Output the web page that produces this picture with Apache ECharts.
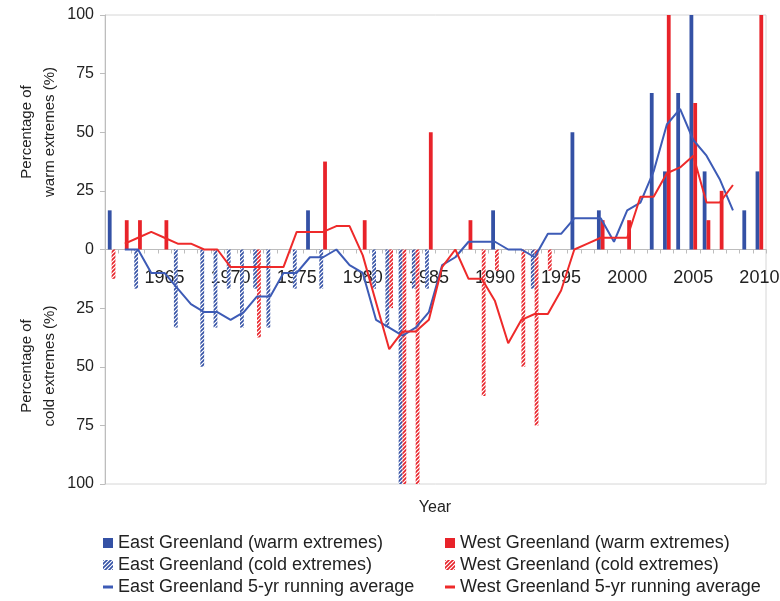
<!DOCTYPE html>
<html>
<head>
<meta charset="utf-8">
<title>Greenland temperature extremes</title>
<script src="https://cdn.jsdelivr.net/npm/echarts@6/dist/echarts.min.js"></script>
<style>
  html, body { margin: 0; padding: 0; background: #ffffff; }
  #chart { width: 780px; height: 601px; }
</style>
</head>
<body>
<div id="chart"></div>
<script>
// Years on the category axis
const years = [
  '1961','1962','1963','1964','1965','1966','1967','1968','1969','1970',
  '1971','1972','1973','1974','1975','1976','1977','1978','1979','1980',
  '1981','1982','1983','1984','1985','1986','1987','1988','1989','1990',
  '1991','1992','1993','1994','1995','1996','1997','1998','1999','2000',
  '2001','2002','2003','2004','2005','2006','2007','2008','2009','2010'
];

// Percentage of stations with warm extremes (positive) per year
const eastWarm = [
  16.7, null, null, null, null, null, null, null, null, null,
  null, null, null, null, null, 16.7, null, null, null, null,
  null, null, null, null, null, null, null, null, null, 16.7,
  null, null, null, null, null, 50, null, 16.7, null, null,
  null, 66.7, 33.3, 66.7, 100, 33.3, null, null, 16.7, 33.3
];
const westWarm = [
  null, 12.5, 12.5, null, 12.5, null, null, null, null, null,
  null, null, null, null, null, null, 37.5, null, null, 12.5,
  null, null, null, null, 50, null, null, 12.5, null, null,
  null, null, null, null, null, null, null, 12.5, null, 12.5,
  null, null, 100, null, 62.5, 12.5, 25, null, null, 100
];

// Percentage of stations with cold extremes, plotted downwards
const eastCold = [
  null, null, -16.7, null, null, -33.3, null, -50, -33.3, -16.7,
  -33.3, -16.7, -33.3, null, -16.7, null, -16.7, null, null, null,
  -16.7, -33.3, -100, -16.7, -16.7, null, null, null, null, null,
  null, null, -16.7, null, null, null, null, null, null, null,
  null, null, null, null, null, null, null, null, null, null
];
const westCold = [
  -12.5, null, null, null, null, null, null, null, null, null,
  null, -37.5, null, null, null, null, null, null, null, null,
  null, -25, -100, -100, null, null, null, null, -62.5, -9.1,
  null, -50, -75, -9.1, null, null, null, null, null, null,
  null, null, null, null, null, null, null, null, null, null
];

// 5-year running averages
const eastAvg = [
  null, 0, 0, -10, -10, -16.7, -23.3, -26.7, -26.7, -30,
  -26.7, -20, -20, -10, -10, -3.3, -3.3, 0, -6.7, -10,
  -30, -33.3, -36.7, -33.3, -26.7, -6.7, -3.3, 3.3, 3.3, 3.3,
  0, 0, -3.3, 6.7, 6.7, 13.3, 13.3, 13.3, 3.3, 16.7,
  20, 33.3, 53.3, 60, 46.7, 40, 30, 16.7, null, null
];
const westAvg = [
  null, 2.5, 5, 7.5, 5, 2.5, 2.5, 0, 0, -7.5,
  -7.5, -7.5, -7.5, -7.5, 7.5, 7.5, 7.5, 10, 10, -2.5,
  -22.5, -42.5, -35, -35, -30, -7.5, 0, -12.5, -12.5, -22,
  -40, -30, -27.5, -27.5, -17.5, 0, 2.5, 5, 5, 5,
  22.5, 22.5, 32.5, 35, 40, 20, 20, 27.5, null, null
];

// Value axis ticks (shown as magnitudes both ways from zero)
const yTicks = { min: -100, max: 100, step: 25 };

const FONT = '"Liberation Sans", Arial, sans-serif';
const BLUE = '#3451a5';
const RED = '#e8232a';
const BLUE_LINE = '#3d5bb6';
const RED_LINE = '#ee2a2a';
const AXIS_GREY = '#bdbdbd';

// Plot box, in pixels
const GRID = { left: 105, right: 14, top: 15, bottom: 117 };
const PLOT_H = 601 - GRID.top - GRID.bottom;

// Diagonal hatch fill used for the cold-extreme bars
function hatch(color) {
  const c = document.createElement('canvas');
  c.width = 4; c.height = 4;
  const g = c.getContext('2d');
  g.fillStyle = '#ffffff';
  g.fillRect(0, 0, 4, 4);
  g.strokeStyle = color;
  g.lineWidth = 1.6;
  g.beginPath();
  g.moveTo(-1, 5); g.lineTo(5, -1);
  g.moveTo(-1, 1); g.lineTo(1, -1);
  g.moveTo(3, 5); g.lineTo(5, 3);
  g.stroke();
  return { image: c, repeat: 'repeat' };
}

const DASH = 'path://M0,0H10V3H0Z';
const BAR_W = 3.8;

// The category axis sits on the zero line: shift it up from the bottom edge
// by the share of the plot that lies below zero.
const zeroShift = PLOT_H * (0 - yTicks.min) / (yTicks.max - yTicks.min);

const chart = echarts.init(document.getElementById('chart'), null, { renderer: 'canvas' });

const legendBase = {
  top: 534, orient: 'vertical',
  padding: 0,
  itemWidth: 10, itemHeight: 10, itemGap: 4,
  selectedMode: false,
  textStyle: { fontFamily: FONT, fontSize: 18, lineHeight: 18, color: '#222222' }
};

chart.setOption({
  animation: false,
  backgroundColor: '#ffffff',
  grid: {
    left: GRID.left, right: GRID.right, top: GRID.top, bottom: GRID.bottom,
    show: true, borderColor: '#d6d6d6', borderWidth: 1,
    containLabel: false, outerBoundsMode: 'none'
  },
  xAxis: {
    type: 'category',
    data: years,
    position: 'bottom',
    offset: -zeroShift,
    boundaryGap: true,
    axisLine: { show: true, onZero: false, lineStyle: { color: AXIS_GREY, width: 1 } },
    axisTick: { show: true, interval: 0, length: 4, lineStyle: { color: AXIS_GREY } },
    axisLabel: {
      interval: (i, v) => Number(v) % 5 === 0,
      fontFamily: FONT, fontSize: 18, color: '#222222', margin: 20
    },
    splitLine: { show: false }
  },
  yAxis: {
    type: 'value',
    min: yTicks.min, max: yTicks.max, interval: yTicks.step,
    axisLine: { show: true, lineStyle: { color: AXIS_GREY, width: 1 } },
    axisTick: { show: true, length: 5, lineStyle: { color: AXIS_GREY } },
    axisLabel: {
      formatter: v => String(Math.abs(v)),
      fontFamily: FONT, fontSize: 16, color: '#222222', margin: 11
    },
    splitLine: { show: false }
  },
  legend: [
    Object.assign({}, legendBase, {
      left: 103,
      data: [
        { name: 'East Greenland (warm extremes)', icon: 'rect' },
        { name: 'East Greenland (cold extremes)', icon: 'rect' },
        { name: 'East Greenland 5-yr running average', icon: DASH }
      ]
    }),
    Object.assign({}, legendBase, {
      left: 445,
      data: [
        { name: 'West Greenland (warm extremes)', icon: 'rect' },
        { name: 'West Greenland (cold extremes)', icon: 'rect' },
        { name: 'West Greenland 5-yr running average', icon: DASH }
      ]
    })
  ],
  graphic: [
    {
      type: 'text', x: 435, y: 508, silent: true,
      style: { text: 'Year', font: '16px ' + FONT, fill: '#222222', align: 'center', verticalAlign: 'middle' }
    },
    {
      type: 'text', x: 38, y: 132, rotation: Math.PI / 2, silent: true,
      style: {
        text: 'Percentage of\nwarm extremes (%)', font: '15px ' + FONT, lineHeight: 23,
        fill: '#222222', align: 'center', verticalAlign: 'middle'
      }
    },
    {
      type: 'text', x: 38, y: 366, rotation: Math.PI / 2, silent: true,
      style: {
        text: 'Percentage of\ncold extremes (%)', font: '15px ' + FONT, lineHeight: 23,
        fill: '#222222', align: 'center', verticalAlign: 'middle'
      }
    }
  ],
  series: [
    {
      name: 'East Greenland (warm extremes)', type: 'bar', stack: 'east',
      data: eastWarm, barWidth: BAR_W, barGap: '0%',
      itemStyle: { color: BLUE }
    },
    {
      name: 'East Greenland (cold extremes)', type: 'bar', stack: 'east',
      data: eastCold, barWidth: BAR_W, barGap: '0%',
      itemStyle: { color: hatch(BLUE) }
    },
    {
      name: 'West Greenland (warm extremes)', type: 'bar', stack: 'west',
      data: westWarm, barWidth: BAR_W, barGap: '0%',
      itemStyle: { color: RED }
    },
    {
      name: 'West Greenland (cold extremes)', type: 'bar', stack: 'west',
      data: westCold, barWidth: BAR_W, barGap: '0%',
      itemStyle: { color: hatch(RED) }
    },
    {
      name: 'East Greenland 5-yr running average', type: 'line',
      data: eastAvg, symbol: 'none', showSymbol: false,
      color: BLUE_LINE,
      lineStyle: { color: BLUE_LINE, width: 2 },
      itemStyle: { color: BLUE_LINE }
    },
    {
      name: 'West Greenland 5-yr running average', type: 'line',
      data: westAvg, symbol: 'none', showSymbol: false,
      color: RED_LINE,
      lineStyle: { color: RED_LINE, width: 2 },
      itemStyle: { color: RED_LINE }
    }
  ]
});
</script>
</body>
</html>
